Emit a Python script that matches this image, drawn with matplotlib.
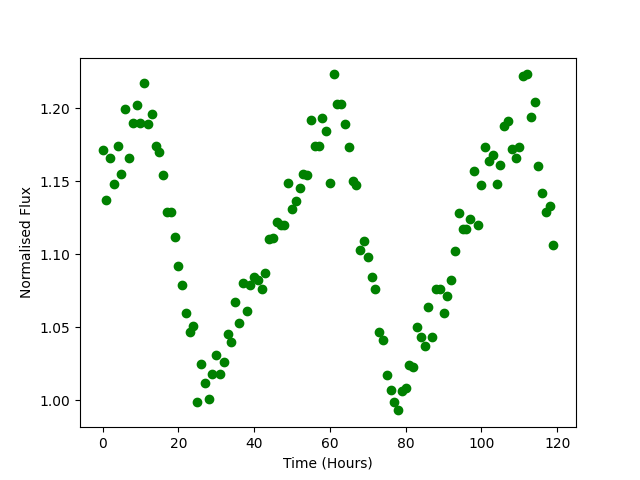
import numpy as np
from matplotlib import pyplot as plt

# time in hours, one reading per hour
time = np.arange(0, 120)

flux = [
    1.171, 1.137, 1.166, 1.148, 1.174, 1.155, 1.199, 1.166, 1.190, 1.202,
    1.190, 1.217, 1.189, 1.196, 1.174, 1.170, 1.154, 1.129, 1.129, 1.112,
    1.092, 1.079, 1.060, 1.047, 1.051, 0.999, 1.025, 1.012, 1.001, 1.018,
    1.031, 1.018, 1.026, 1.045, 1.040, 1.067, 1.053, 1.080, 1.061, 1.079,
    1.084, 1.082, 1.076, 1.087, 1.110, 1.111, 1.122, 1.120, 1.120, 1.149,
    1.131, 1.136, 1.145, 1.155, 1.154, 1.192, 1.174, 1.174, 1.193, 1.184,
    1.149, 1.223, 1.203, 1.203, 1.189, 1.173, 1.150, 1.147, 1.103, 1.109,
    1.098, 1.084, 1.076, 1.047, 1.041, 1.017, 1.007, 0.999, 0.993, 1.006,
    1.008, 1.024, 1.023, 1.050, 1.043, 1.037, 1.064, 1.043, 1.076, 1.076,
    1.060, 1.071, 1.082, 1.102, 1.128, 1.117, 1.117, 1.124, 1.157, 1.120,
    1.147, 1.173, 1.164, 1.168, 1.148, 1.161, 1.188, 1.191, 1.172, 1.166,
    1.173, 1.222, 1.223, 1.194, 1.204, 1.160, 1.142, 1.129, 1.133, 1.106,
]

plt.figure(figsize=(6.4, 4.8), dpi=100)
plt.plot(time, flux, 'o', color='green')
plt.xlabel('Time (Hours)')
plt.ylabel('Normalised Flux')
plt.savefig('out.png')
